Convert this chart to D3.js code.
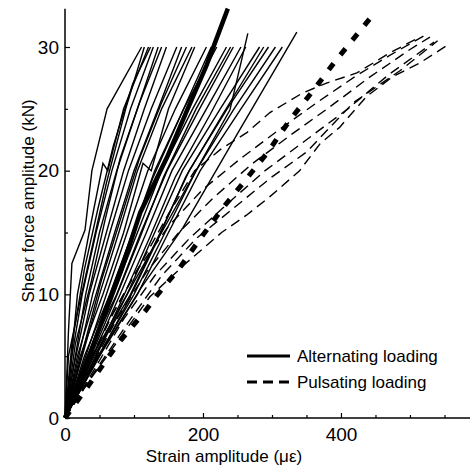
<!DOCTYPE html>
<html>
<head>
<meta charset="utf-8">
<script src="https://cdn.jsdelivr.net/npm/d3@7"></script>
<style>
  body { margin: 0; background: #fff; }
  text { font-family: "Liberation Sans", Arial, sans-serif; fill: #000; }
</style>
</head>
<body>
<div id="chart-area"></div>
<script>
// strain amplitude (micro-strain) vs shear force amplitude (kN), one array per specimen
const alternatingCurves = [
	[[0,0],[3,4],[5,7],[10,12.5],[29,15.2],[39,20],[61,25],[111,30]],
	[[0,0],[8,4],[18,10],[35,15],[55,20.6],[62,20],[85,25],[121,30]],
	[[0,0],[10,5],[25,10],[45,15],[68,20],[95,25],[128,30]],
	[[0,0],[15,5],[30,10],[50,15],[75,20],[105,25],[135,30]],
	[[0,0],[12,4],[35,10],[60,15],[85,20],[115,25],[147,30]],
	[[0,0],[20,5],[40,10],[65,15],[92,20],[125,25],[162,30]],
	[[0,0],[18,5],[45,10],[72,15],[100,20],[135,25],[169,30]],
	[[0,0],[25,5],[50,10],[78,15],[105,20],[140,25],[184,30]],
	[[0,0],[22,5],[55,10],[85,15],[113,20.6],[125,20],[150,25],[188,30]],
	[[0,0],[30,5],[60,10],[90,15],[120,20],[160,25],[205,30]],
	[[0,0],[28,5],[65,10],[98,15],[130,20],[172,25],[220,30]],
	[[0,0],[35,5],[70,10],[105,15],[140,20],[185,25],[234,30]],
	[[0,0],[32,5],[75,10],[110,15],[148,20],[195,25],[244,30]],
	[[0,0],[40,5],[80,10],[118,15],[155,20],[205,25],[255,30]],
	[[0,0],[40,5],[90,10],[140,15],[190,20],[239,24.9],[265,31.1]],
	[[0,0],[45,5],[90,10],[130,15],[170,20],[225,25],[282,30]],
	[[0,0],[42,5],[95,10],[138,15],[180,20],[235,25],[295,30]],
	[[0,0],[48,5],[100,10],[145,15],[190,20],[245,25],[305,30]],
	[[0,0],[50,5],[105,10],[150,15],[196,20],[255,25],[315,30]],
	[[0,0],[15,6],[38,11],[58,16],[80,21],[108,25.5],[140,30]],
	[[0,0],[26,5.5],[52,11],[80,16],[108,21],[140,25.5],[176,30]],
	[[0,0],[30,4.5],[62,9.5],[95,14.5],[128,19.5],[168,24.5],[212,30]],
	[[0,0],[34,4.5],[72,9.5],[108,14.5],[143,19.5],[190,25],[240,30]],
	[[0,0],[40,4.5],[82,9.5],[122,14.5],[160,19.5],[210,24.5],[262,30]],
	[[0,0],[45,4.5],[92,9.5],[135,14.5],[175,19.5],[228,24.5],[288,30]],
	[[0,0],[5,5],[20,9],[40,14],[60,19],[88,25],[115,30]],
	[[0,0],[10,6],[28,12],[48,17],[70,22],[98,27],[124,30]],
	[[0,0],[25,3],[60,6],[110,10.5],[171,15.4],[250,23],[336,31.2]]
];

const pulsatingCurves = [
	[[0,0],[30,4],[70,8.5],[110,12.5],[150,16.5],[188,20],[225,21.7],[264,23.1],[297,24.7],[345,26.3],[380,27.1],[423,27.9],[470,29.5],[514,30.8]],
	[[0,0],[28,3.5],[65,8],[105,12],[150,15.5],[200,18.5],[255,21],[310,23.3],[365,25.5],[420,27.6],[470,29.3],[520,30.9]],
	[[0,0],[32,3.5],[75,8],[118,11.8],[165,15],[215,17.8],[270,20.5],[325,22.8],[380,25],[440,27.5],[500,29.8],[529,30.8]],
	[[0,0],[38,3.5],[85,8],[130,11.5],[180,14.5],[235,17.3],[290,20],[350,22.5],[410,25],[470,27.8],[535,30.4]],
	[[0,0],[40,3.5],[95,8],[140,11.5],[190,14.5],[245,17],[300,19.5],[350,21.5],[389,23.8],[418,25.5],[452,26.8],[486,28.1],[540,30.5]],
	[[0,0],[35,3],[80,6.5],[123,9.8],[175,12.5],[227,15],[263,16.4],[297,17.9],[340,20],[370,22.2],[398,23.5],[437,26],[475,27.6],[514,28.7],[553,30.1]]
];

// mean curves (heavy lines)
const alternatingMean = [[0,0],[28,4],[55,8],[82,12],[109,16.6],[148,21.1],[177,24.9],[205,28.5],[236,33.1]];
const pulsatingMean = [[0,0],[35,2.7],[65,5.1],[81,6.3],[117,8.7],[133,9.9],[167,12.2],[196,14.5],[229,17],[261,19.2],[294,21.5],[326,24.1],[360,26.5],[391,28.8],[442,32.3]];

const xTicks = [0, 200, 400];
const xMinorTicks = [50, 100, 150, 250, 300, 350, 450, 500, 550];
const yTicks = [0, 10, 20, 30];
const yMinorTicks = [5, 15, 25];

const legendItems = ['Alternating loading', 'Pulsating loading'];

const W = 473, H = 472;

const svg = d3.select('#chart-area').append('svg')
	.attr('width', W)
	.attr('height', H);

const x = d3.scaleLinear()
	.domain([0, 587])
	.range([65, 470]);

const y = d3.scaleLinear()
	.domain([0, 30])
	.range([418, 47]);

const line = d3.line()
	.x(d => x(d[0]))
	.y(d => y(d[1]));

// thin curves
svg.append('g')
	.selectAll('path')
	.data(pulsatingCurves)
	.enter()
	.append('path')
		.attr('d', line)
		.attr('fill', 'none')
		.attr('stroke', '#000')
		.attr('stroke-width', 1.4)
		.attr('stroke-dasharray', '10,6');

svg.append('g')
	.selectAll('path')
	.data(alternatingCurves)
	.enter()
	.append('path')
		.attr('d', line)
		.attr('fill', 'none')
		.attr('stroke', '#000')
		.attr('stroke-width', 1.4);

// heavy curves
svg.append('path')
	.datum(alternatingMean)
	.attr('d', line)
	.attr('fill', 'none')
	.attr('stroke', '#000')
	.attr('stroke-width', 4.5);

svg.append('path')
	.datum(pulsatingMean)
	.attr('d', line)
	.attr('fill', 'none')
	.attr('stroke', '#000')
	.attr('stroke-width', 5)
	.attr('stroke-dasharray', '8,11');

// axes (ticks point inward)
const xAxis = svg.append('g')
	.attr('transform', 'translate(0,' + y(0) + ')')
	.call(d3.axisBottom(x).tickValues(xTicks).tickSize(-5).tickPadding(10).tickSizeOuter(0));
xAxis.append('g')
	.call(d3.axisBottom(x).tickValues(xMinorTicks).tickSize(-3).tickFormat('').tickSizeOuter(0))
	.select('.domain').remove();

const yAxis = svg.append('g')
	.attr('transform', 'translate(' + x(0) + ',0)')
	.call(d3.axisLeft(y).tickValues(yTicks).tickSize(-5).tickPadding(6).tickSizeOuter(0));
yAxis.append('g')
	.call(d3.axisLeft(y).tickValues(yMinorTicks).tickSize(-3).tickFormat('').tickSizeOuter(0))
	.select('.domain').remove();

// extend axis lines to the plot edges
yAxis.select('.domain').attr('d', 'M0,' + y(0) + 'V' + y(33.1));
xAxis.select('.domain').attr('d', 'M' + x(0) + ',0H' + x(587));

svg.selectAll('.domain').attr('stroke-width', 1.5);
svg.selectAll('.tick line').attr('stroke-width', 1.2);
svg.selectAll('.tick text')
	.attr('font-size', '19px')
	.attr('font-family', '"Liberation Sans", Arial, sans-serif');

// axis labels
svg.append('text')
	.attr('x', 224)
	.attr('y', 462)
	.attr('font-size', '17px')
	.attr('text-anchor', 'middle')
	.text('Strain amplitude (\u03bc\u03b5)');

svg.append('text')
	.attr('x', -201)
	.attr('y', 34)
	.attr('font-size', '17px')
	.attr('text-anchor', 'middle')
	.attr('transform', 'rotate(-90)')
	.text('Shear force amplitude (kN)');

// legend
const legend = svg.append('g');
legendItems.forEach((name, i) => {
	const ly = 356 + i * 26;
	legend.append('line')
		.attr('x1', 247).attr('x2', 290)
		.attr('y1', ly).attr('y2', ly)
		.attr('stroke', '#000')
		.attr('stroke-width', 3)
		.attr('stroke-dasharray', i === 0 ? null : '10,6');
	legend.append('text')
		.attr('x', 297)
		.attr('y', ly + 6)
		.attr('font-size', '17px')
		.text(name);
});
</script>
</body>
</html>
